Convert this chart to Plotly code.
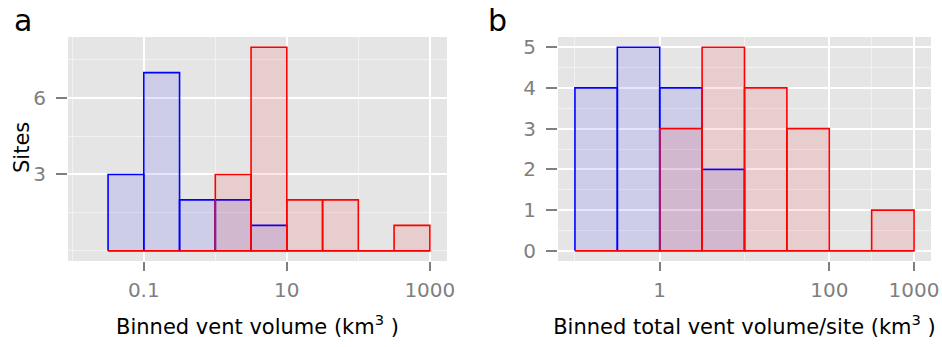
import plotly.graph_objects as go

# ---- data ----
# histogram bin edges, as log10 of volume (km^3)
a_edges_log10 = [-1.5, -1.0, -0.5, 0.0, 0.5, 1.0, 1.5, 2.0, 2.5, 3.0]
a_blue_counts = [3, 7, 2, 2, 1, 0, 0, 0, 0]
a_red_counts = [0, 0, 0, 3, 8, 2, 2, 0, 1]

b_edges_log10 = [-1.0, -0.5, 0.0, 0.5, 1.0, 1.5, 2.0, 2.5, 3.0]
b_blue_counts = [4, 5, 4, 2, 0, 0, 0, 0]
b_red_counts = [0, 0, 3, 5, 4, 3, 0, 1]

a_xtick_vals = [0.1, 10, 1000]
a_xtick_text = ["0.1", "10", "1000"]
a_xminor_vals = [0.01, 1, 100]
a_ytick_vals = [3, 6]
a_yminor_vals = [0, 1.5, 4.5, 7.5]

b_xtick_vals = [1, 100, 1000]
b_xtick_text = ["1", "100", "1000"]
b_xminor_vals = [0.1, 10, 316.2]
b_ytick_vals = [0, 1, 2, 3, 4, 5]
b_yminor_vals = [0.5, 1.5, 2.5, 3.5, 4.5]

FONT = "DejaVu Sans"
W, H = 942, 347


def rect_path(edges_log10, counts):
    xs, ys = [], []
    for i, c in enumerate(counts):
        x0 = 10 ** edges_log10[i]
        x1 = 10 ** edges_log10[i + 1]
        xs += [x0, x0, x1, x1, x0, None]
        ys += [0, c, c, 0, 0, None]
    return xs, ys


def hist_trace(edges, counts, color, fill, xa, ya):
    xs, ys = rect_path(edges, counts)
    return go.Scatter(x=xs, y=ys, mode="lines", fill="toself", fillcolor=fill,
                      line=dict(color=color, width=1.6), xaxis=xa, yaxis=ya,
                      hoverinfo="skip", showlegend=False)


fig = go.Figure()
fig.add_trace(hist_trace(a_edges_log10, a_blue_counts, "#0000FF", "rgba(0,0,255,0.1)", "x", "y"))
fig.add_trace(hist_trace(a_edges_log10, a_red_counts, "#FF0000", "rgba(255,0,0,0.1)", "x", "y"))
fig.add_trace(hist_trace(b_edges_log10, b_blue_counts, "#0000FF", "rgba(0,0,255,0.1)", "x2", "y2"))
fig.add_trace(hist_trace(b_edges_log10, b_red_counts, "#FF0000", "rgba(255,0,0,0.1)", "x2", "y2"))

ydom = [1 - 261 / H, 1 - 37 / H]
tickfont = dict(family=FONT, size=20, color="#7F7F7F")
titlefont = dict(family=FONT, size=21, color="#000000")

common_x = dict(type="log", showgrid=True, gridcolor="#FFFFFF", gridwidth=1.6,
                zeroline=False, showline=False, ticks="outside", ticklen=9,
                tickwidth=1.5, tickcolor="#7F7F7F", tickfont=tickfont,
                ticklabelstandoff=2, tickmode="array", automargin=False)
common_y = dict(showgrid=True, gridcolor="#FFFFFF", gridwidth=1.6,
                zeroline=False, showline=False, ticks="outside", ticklen=11,
                tickwidth=1.5, tickcolor="#7F7F7F", tickfont=tickfont,
                ticklabelstandoff=6, tickmode="array", automargin=False)

fig.update_layout(
    width=W, height=H, margin=dict(l=0, r=0, t=0, b=0),
    paper_bgcolor="#FFFFFF", plot_bgcolor="#E5E5E5",
    xaxis=dict(common_x, domain=[68 / W, 447 / W], range=[-2.06, 3.24],
               tickvals=a_xtick_vals, ticktext=a_xtick_text, anchor="y",
               minor=dict(tickmode="array", tickvals=a_xminor_vals, showgrid=True,
                          gridcolor="#F2F2F2", gridwidth=1.2, ticks=""),
               title=dict(text="Binned vent volume (km<sup>3</sup> )", font=titlefont, standoff=18)),
    yaxis=dict(common_y, domain=ydom, range=[-0.4, 8.4], tickvals=a_ytick_vals,
               anchor="x",
               minor=dict(tickmode="array", tickvals=a_yminor_vals, showgrid=True,
                          gridcolor="#F2F2F2", gridwidth=1.2, ticks="")),
    xaxis2=dict(common_x, domain=[558 / W, 931 / W], range=[-1.2, 3.2],
                tickvals=b_xtick_vals, ticktext=b_xtick_text, anchor="y2",
                minor=dict(tickmode="array", tickvals=b_xminor_vals, showgrid=True,
                           gridcolor="#F2F2F2", gridwidth=1.2, ticks=""),
                title=dict(text="Binned total vent volume/site (km<sup>3</sup> )", font=titlefont, standoff=18)),
    yaxis2=dict(common_y, domain=ydom, range=[-0.25, 5.25], tickvals=b_ytick_vals,
                anchor="x2",
                minor=dict(tickmode="array", tickvals=b_yminor_vals, showgrid=True,
                           gridcolor="#F2F2F2", gridwidth=1.2, ticks="")),
    annotations=[
        dict(text="Sites", x=22 / W, y=1 - 148 / H, xref="paper", yref="paper",
             xanchor="center", yanchor="middle", textangle=-90, showarrow=False,
             font=titlefont),
        dict(text="a", x=23 / W, y=1 - 20 / H, xref="paper", yref="paper",
             xanchor="center", yanchor="middle", showarrow=False,
             font=dict(family=FONT, size=30, color="#000000")),
        dict(text="b", x=497 / W, y=1 - 20 / H, xref="paper", yref="paper",
             xanchor="center", yanchor="middle", showarrow=False,
             font=dict(family=FONT, size=30, color="#000000")),
    ],
)

fig.write_html("out.html")
